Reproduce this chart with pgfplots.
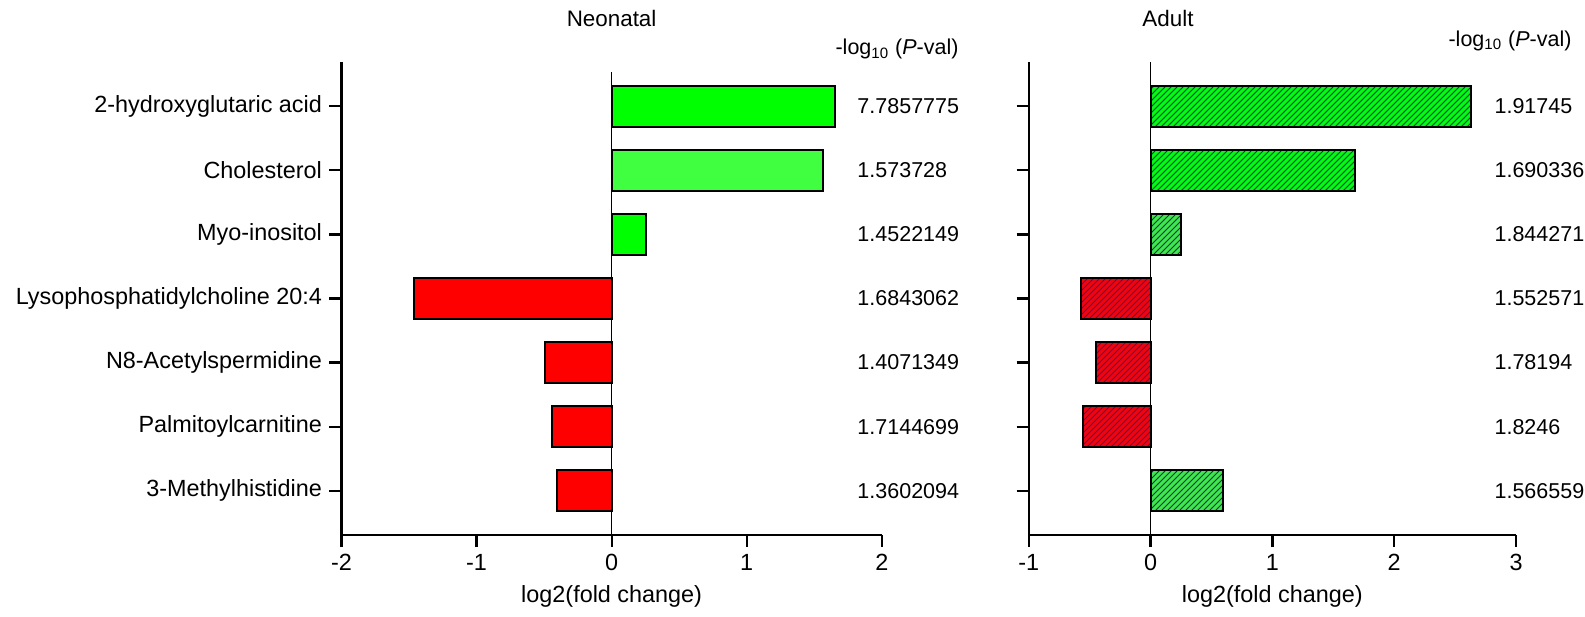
\documentclass[border=0pt]{standalone}
\usepackage{fontspec}
\setmainfont{Liberation Sans}
\usepackage{pgfplots}
\pgfplotsset{compat=1.18}
\usetikzlibrary{patterns}

\definecolor{g1}{RGB}{0,255,0}
\definecolor{g2}{RGB}{64,255,64}
\definecolor{g3}{RGB}{60,235,60}
\definecolor{rd}{RGB}{255,0,0}
\definecolor{hb}{RGB}{30,30,160}

\newcommand{\fl}{\fontsize{11.7}{14}\selectfont}
\newcommand{\fn}{\fontsize{10.75}{13}\selectfont}

\pgfplotsset{
  mybase/.style={
    scale only axis,
    height=236.5pt,
    axis x line*=bottom, axis y line*=left,
    axis line style={-, line width=1.15pt},
    every tick/.style={line width=1.15pt, black},
    tick align=outside,
    major tick length=6pt,
    y dir=reverse,
    ymin=0.31, ymax=7.69,
    ytick={1,2,3,4,5,6,7},
    xbar, bar shift=0pt, bar width=0.64,
    clip=false,
    xlabel={log2(fold change)},
    every axis plot/.append style={draw=black, line width=1pt},
    tick label style={font=\fl},
    label style={font=\fl},
  }
}

\begin{document}
\fn
\begin{tikzpicture}[font=\fn]
\path[use as bounding box] (0,0) rectangle (792.5pt,308pt);

% ---------------- Neonatal ----------------
\begin{axis}[mybase,
  at={(170.75pt,40.5pt)}, anchor=south west,
  width=270.15pt,
  xmin=-2, xmax=2,
  xtick={-2,-1,0,1,2}, xticklabels={-2,-1,0,1,2},
  yticklabels={2-hydroxyglutaric acid,Cholesterol,Myo-inositol,Lysophosphatidylcholine 20:4,N8-Acetylspermidine,Palmitoylcarnitine,3-Methylhistidine},
]
\addplot[fill=g1] coordinates {(1.655,1) (0.258,3)};
\addplot[fill=g2] coordinates {(1.566,2)};
\addplot[fill=rd] coordinates {(-1.462,4) (-0.493,5) (-0.444,6) (-0.407,7)};
\draw[line width=0.65pt] (axis cs:0,0.47) -- (axis cs:0,7.69);
\node[anchor=west, font=\fn] at (axis cs:1.764,1) {7.7857775};
\node[anchor=west, font=\fn] at (axis cs:1.764,2) {1.573728};
\node[anchor=west, font=\fn] at (axis cs:1.764,3) {1.4522149};
\node[anchor=west, font=\fn] at (axis cs:1.764,4) {1.6843062};
\node[anchor=west, font=\fn] at (axis cs:1.764,5) {1.4071349};
\node[anchor=west, font=\fn] at (axis cs:1.764,6) {1.7144699};
\node[anchor=west, font=\fn] at (axis cs:1.764,7) {1.3602094};
\end{axis}

% ---------------- Adult ----------------
\begin{axis}[mybase,
  at={(514.35pt,40.5pt)}, anchor=south west,
  width=243.65pt,
  xmin=-1, xmax=3,
  xtick={-1,0,1,2,3}, xticklabels={-1,0,1,2,3},
  yticklabels={},
]
\addplot[fill=g1, postaction={pattern=north east lines, pattern color=hb}] coordinates {(2.63,1) (1.68,2)};
\addplot[fill=g3, postaction={pattern=north east lines, pattern color=hb}] coordinates {(0.246,3) (0.597,7)};
\addplot[fill=rd, postaction={pattern=north east lines, pattern color=hb}] coordinates {(-0.574,4) (-0.447,5) (-0.553,6)};
\draw[line width=0.65pt] (axis cs:0,0.31) -- (axis cs:0,7.69);
\node[anchor=west, font=\fn] at (axis cs:2.762,1) {1.91745};
\node[anchor=west, font=\fn] at (axis cs:2.762,2) {1.690336};
\node[anchor=west, font=\fn] at (axis cs:2.762,3) {1.844271};
\node[anchor=west, font=\fn] at (axis cs:2.762,4) {1.552571};
\node[anchor=west, font=\fn] at (axis cs:2.762,5) {1.78194};
\node[anchor=west, font=\fn] at (axis cs:2.762,6) {1.8246};
\node[anchor=west, font=\fn] at (axis cs:2.762,7) {1.566559};
\end{axis}

% titles and headers
\node[anchor=base, font=\fontsize{11.2}{13}\selectfont] at (305.8pt,294.5pt) {Neonatal};
\node[anchor=base, font=\fontsize{11.2}{13}\selectfont] at (584pt,294.5pt) {Adult};
\node[anchor=base] at (448.5pt,280.5pt) {-log\textsubscript{10} (\textit{P}-val)};
\node[anchor=base] at (755pt,284.75pt) {-log\textsubscript{10} (\textit{P}-val)};
\end{tikzpicture}
\end{document}
